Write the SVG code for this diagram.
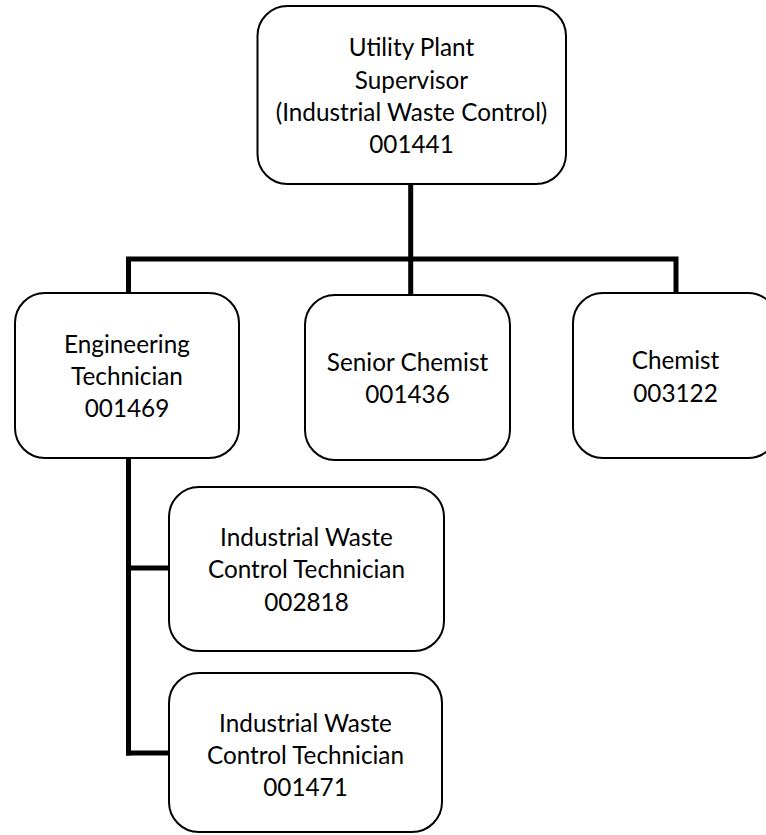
<svg xmlns="http://www.w3.org/2000/svg" width="766" height="835" viewBox="0 0 766 835">
<style>
.box{fill:#fff;stroke:#000;stroke-width:2}
.t{font-family:Lato,"Open Sans","Liberation Sans",sans-serif;font-size:24.3px;fill:#000;text-anchor:middle}
.c{fill:none;stroke:#000;stroke-width:5;stroke-linejoin:miter;stroke-linecap:butt}
</style>
<rect width="766" height="835" fill="#fff"/>
<g id="connectors">
<path class="c" d="M410.7,184 V259"/>
<path class="c" d="M128.5,293 V259 H676 V293"/>
<path class="c" d="M410.7,259 V295"/>
<path class="c" d="M128.5,458 V755.5"/>
<path class="c" d="M126,568 H169"/>
<path class="c" d="M126,753 H169"/>
</g>
<g id="n-supervisor">
<rect class="box" x="257.5" y="6" width="308.5" height="178" rx="30"/>
<text class="t" x="411.5" y="56">Utility Plant</text>
<text class="t" x="411.5" y="88.5">Supervisor</text>
<text class="t" x="411.5" y="121">(Industrial Waste Control)</text>
<text class="t" x="411.5" y="153">001441</text>
</g>
<g id="n-engtech">
<rect class="box" x="15" y="293" width="224" height="165" rx="30"/>
<text class="t" x="127" y="352.5">Engineering</text>
<text class="t" x="127" y="385">Technician</text>
<text class="t" x="127" y="417">001469</text>
</g>
<g id="n-senior">
<rect class="box" x="305" y="295" width="205" height="165" rx="30"/>
<text class="t" x="407.5" y="370.7">Senior Chemist</text>
<text class="t" x="407.5" y="402.7">001436</text>
</g>
<g id="n-chemist">
<rect class="box" x="573" y="293" width="205" height="165" rx="30"/>
<text class="t" x="675.5" y="369">Chemist</text>
<text class="t" x="675.5" y="401.7">003122</text>
</g>
<g id="n-iwct1">
<rect class="box" x="169" y="487" width="275" height="164" rx="30"/>
<text class="t" x="306.5" y="546">Industrial Waste</text>
<text class="t" x="306.5" y="577.5">Control Technician</text>
<text class="t" x="306.5" y="610.5">002818</text>
</g>
<g id="n-iwct2">
<rect class="box" x="169" y="673" width="273" height="159" rx="30"/>
<text class="t" x="305.5" y="731.7">Industrial Waste</text>
<text class="t" x="305.5" y="763.5">Control Technician</text>
<text class="t" x="305.5" y="796">001471</text>
</g>
</svg>
